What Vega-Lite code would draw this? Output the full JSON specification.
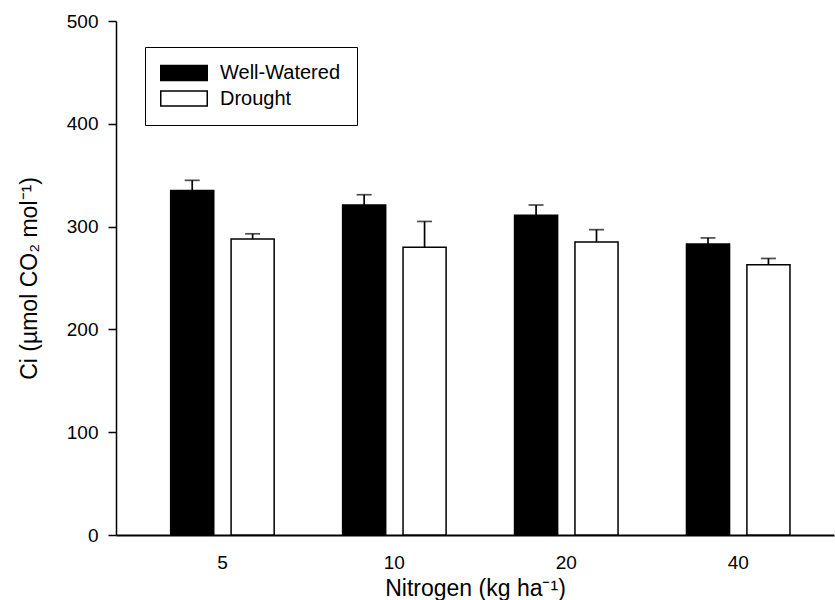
{
  "$schema": "https://vega.github.io/schema/vega-lite/v6.json",
  "width": 718,
  "height": 514,
  "autosize": "none",
  "padding": {"left": 116, "top": 21, "right": 1, "bottom": 65},
  "background": "white",
  "config": {
    "view": {"stroke": null},
    "font": "Liberation Sans",
    "axis": {
      "labelFont": "Liberation Sans",
      "titleFont": "Liberation Sans",
      "labelColor": "black",
      "titleColor": "black",
      "domainColor": "black",
      "tickColor": "black",
      "grid": false,
      "titleFontWeight": "normal"
    },
    "legend": {
      "labelFont": "Liberation Sans",
      "labelColor": "black"
    }
  },
  "data": {
    "values": [
      {"nitrogen": "5", "treatment": "Well-Watered", "mean": 335, "upper": 345},
      {"nitrogen": "5", "treatment": "Drought", "mean": 288, "upper": 293},
      {"nitrogen": "10", "treatment": "Well-Watered", "mean": 321, "upper": 331},
      {"nitrogen": "10", "treatment": "Drought", "mean": 280, "upper": 305},
      {"nitrogen": "20", "treatment": "Well-Watered", "mean": 311, "upper": 321},
      {"nitrogen": "20", "treatment": "Drought", "mean": 285, "upper": 297},
      {"nitrogen": "40", "treatment": "Well-Watered", "mean": 283, "upper": 289},
      {"nitrogen": "40", "treatment": "Drought", "mean": 263, "upper": 269}
    ]
  },
  "encoding": {
    "x": {
      "field": "nitrogen",
      "type": "nominal",
      "sort": ["5", "10", "20", "40"],
      "scale": {"paddingInner": 0.398, "paddingOuter": 0.287, "align": 0.554},
      "axis": {
        "title": "Nitrogen (kg ha⁻¹)",
        "titleFontSize": 23,
        "titlePadding": 5,
        "labelFontSize": 19,
        "labelAngle": 0,
        "labelPadding": 18,
        "ticks": false,
        "domainWidth": 2
      }
    },
    "xOffset": {
      "field": "treatment",
      "type": "nominal",
      "scale": {"domain": ["Well-Watered", "Drought"], "paddingInner": 0.287, "paddingOuter": 0}
    }
  },
  "layer": [
    {
      "mark": {"type": "rule", "stroke": "black", "strokeWidth": 1.7},
      "encoding": {
        "y": {"field": "mean", "type": "quantitative"},
        "y2": {"field": "upper"}
      }
    },
    {
      "mark": {"type": "tick", "color": "black", "size": 15, "thickness": 1.7},
      "encoding": {
        "y": {"field": "upper", "type": "quantitative"}
      }
    },
    {
      "mark": {"type": "bar", "stroke": "black", "strokeWidth": 1.5},
      "encoding": {
        "y": {
          "field": "mean",
          "type": "quantitative",
          "scale": {"domain": [0, 500], "nice": false},
          "axis": {
            "title": "Ci (µmol CO₂ mol⁻¹)",
            "titleFontSize": 23,
            "titlePadding": 25,
            "labelFontSize": 19,
            "labelPadding": 10,
            "tickSize": 8,
            "tickWidth": 1.5,
            "domainWidth": 1.5,
            "values": [0, 100, 200, 300, 400, 500]
          }
        },
        "fill": {
          "field": "treatment",
          "type": "nominal",
          "scale": {"domain": ["Well-Watered", "Drought"], "range": ["black", "white"]},
          "legend": {
            "title": null,
            "orient": "none",
            "legendX": 29,
            "legendY": 26,
            "strokeColor": "black",
            "fillColor": "white",
            "padding": 16,
            "labelFontSize": 20,
            "symbolOffset": 13,
            "labelOffset": 26,
            "rowPadding": 3.5,
            "symbolType": "M-3.1,-1H3.1V1H-3.1Z",
            "symbolSize": 225,
            "symbolStrokeColor": "black",
            "symbolStrokeWidth": 1.5
          }
        }
      }
    }
  ]
}
